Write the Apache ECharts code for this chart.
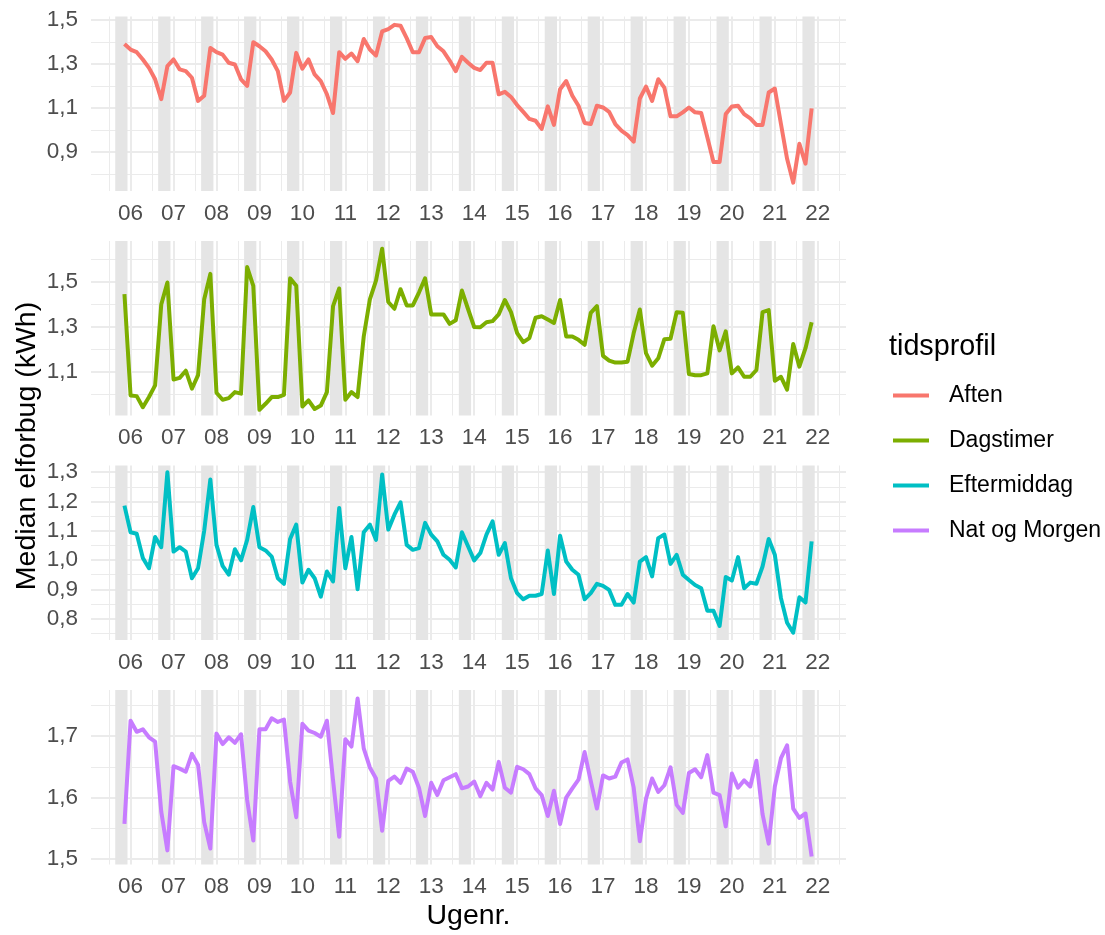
<!DOCTYPE html>
<html>
<head>
<meta charset="utf-8">
<script src="https://cdn.jsdelivr.net/npm/echarts@6/dist/echarts.min.js"></script>
<style>
html,body{margin:0;padding:0;background:#ffffff;}
#chart{width:1105px;height:935px;}
</style>
</head>
<body>
<div id="chart"></div>
<script>
// ---------- DATA ----------
// x = day offset from Monday of week 06; first observation is the Sunday before week 06
const firstDay = -1;
const weekLabels = ['06','07','08','09','10','11','12','13','14','15','16','17','18','19','20','21','22'];
const seriesNames = ['Aften','Dagstimer','Eftermiddag','Nat og Morgen'];

const aften = [1.39,1.365,1.353,1.32,1.282,1.23,1.14,1.29,1.32,1.275,1.267,1.237,1.132,1.155,1.372,1.353,1.342,1.305,1.297,1.23,1.2,1.398,1.38,1.357,1.32,1.267,1.132,1.17,1.35,1.278,1.32,1.252,1.222,1.162,1.077,1.353,1.323,1.347,1.312,1.413,1.365,1.338,1.447,1.458,1.477,1.473,1.417,1.353,1.353,1.417,1.422,1.38,1.357,1.315,1.267,1.332,1.305,1.282,1.272,1.305,1.305,1.162,1.173,1.15,1.113,1.082,1.05,1.042,1.005,1.107,1.023,1.185,1.222,1.155,1.11,1.032,1.027,1.11,1.102,1.082,1.027,0.997,0.977,0.947,1.143,1.197,1.132,1.23,1.192,1.062,1.062,1.08,1.102,1.08,1.077,0.967,0.855,0.855,1.072,1.107,1.11,1.072,1.053,1.023,1.023,1.17,1.188,1.027,0.869,0.761,0.937,0.847,1.098];

const dagstimer = [1.446,0.996,0.993,0.944,0.989,1.041,1.40,1.498,1.067,1.074,1.106,1.026,1.086,1.423,1.536,1.008,0.977,0.984,1.011,1.004,1.566,1.483,0.932,0.959,0.989,0.989,0.999,1.516,1.483,0.947,0.974,0.936,0.951,1.011,1.393,1.471,0.977,1.011,0.989,1.258,1.423,1.506,1.648,1.411,1.381,1.468,1.396,1.396,1.453,1.516,1.356,1.356,1.356,1.314,1.330,1.462,1.38,1.30,1.299,1.321,1.326,1.356,1.42,1.366,1.273,1.233,1.251,1.341,1.348,1.333,1.318,1.42,1.258,1.258,1.243,1.221,1.363,1.393,1.172,1.151,1.142,1.142,1.146,1.273,1.378,1.184,1.128,1.161,1.246,1.248,1.366,1.363,1.091,1.086,1.086,1.094,1.303,1.196,1.281,1.094,1.121,1.079,1.079,1.109,1.366,1.375,1.061,1.079,1.022,1.225,1.124,1.206,1.321];

const eftermiddag = [1.186,1.095,1.09,1.007,0.972,1.079,1.044,1.30,1.029,1.044,1.029,0.938,0.972,1.10,1.275,1.052,0.98,0.95,1.037,0.999,1.069,1.181,1.044,1.033,1.012,0.938,0.919,1.072,1.121,0.923,0.967,0.938,0.875,0.961,0.927,1.178,0.972,1.079,0.90,1.095,1.121,1.069,1.292,1.104,1.155,1.197,1.052,1.035,1.041,1.127,1.087,1.064,1.018,1.001,0.975,1.095,1.047,0.999,1.024,1.087,1.132,1.018,1.058,0.938,0.887,0.866,0.878,0.878,0.884,1.033,0.884,1.083,0.995,0.967,0.95,0.866,0.887,0.919,0.912,0.898,0.847,0.847,0.884,0.855,0.995,1.01,0.944,1.075,1.087,0.987,1.018,0.95,0.932,0.915,0.904,0.827,0.827,0.775,0.942,0.93,1.01,0.904,0.923,0.919,0.978,1.072,1.018,0.87,0.786,0.752,0.873,0.855,1.064];

const natOgMorgen = [1.557,1.725,1.707,1.711,1.698,1.691,1.577,1.514,1.651,1.647,1.642,1.671,1.653,1.56,1.517,1.704,1.687,1.698,1.689,1.703,1.596,1.53,1.711,1.711,1.729,1.723,1.727,1.626,1.568,1.72,1.709,1.705,1.699,1.725,1.628,1.536,1.695,1.683,1.761,1.68,1.649,1.631,1.546,1.627,1.634,1.624,1.647,1.642,1.616,1.57,1.624,1.604,1.628,1.633,1.638,1.615,1.618,1.626,1.602,1.624,1.613,1.658,1.616,1.608,1.65,1.646,1.638,1.615,1.604,1.57,1.611,1.557,1.60,1.615,1.629,1.674,1.627,1.582,1.636,1.631,1.634,1.657,1.662,1.616,1.529,1.598,1.631,1.609,1.62,1.649,1.588,1.575,1.64,1.646,1.633,1.669,1.608,1.604,1.553,1.639,1.616,1.628,1.618,1.66,1.573,1.525,1.618,1.664,1.685,1.582,1.567,1.574,1.504];

// y tick labels per panel
const yTicksAften = [0.9, 1.1, 1.3, 1.5];
const yTicksDagstimer = [1.1, 1.3, 1.5];
const yTicksEftermiddag = [0.8, 0.9, 1.0, 1.1, 1.2, 1.3];
const yTicksNat = [1.5, 1.6, 1.7];

// ---------- LAYOUT / STYLE ----------
const FONT = 'Liberation Sans, Arial, sans-serif';
const colors = ['#F8766D', '#7CAE00', '#00BFC4', '#C77CFF'];
const allValues = [aften, dagstimer, eftermiddag, natOgMorgen];
const allTicks = [yTicksAften, yTicksDagstimer, yTicksEftermiddag, yTicksNat];
const yRanges = [[0.723, 1.515], [0.907, 1.682], [0.727, 1.323], [1.491, 1.775]];
const xRange = [-6.45, 116.6];
const panelTops = [16.5, 241, 465.5, 690];
const panelHeight = 174.5;
const gridLeft = 91, gridWidth = 755;

const tickDays = weekLabels.map((w, i) => i * 7);
const minorDays = [];
for (let d = -3.5; d <= xRange[1]; d += 7) if (d >= xRange[0]) minorDays.push(d);

function minorOf(ticks, range) {
  const step = ticks.length > 1 ? ticks[1] - ticks[0] : 0.2;
  const out = [];
  for (let v = ticks[0] - step / 2; v <= range[1] + 1e-9; v += step) {
    const r = Math.round(v * 1000) / 1000;
    if (r >= range[0]) out.push(r);
  }
  return out;
}

// weekend bands: Saturday-0.5 .. Sunday+0.5
function weekendBands(nPoints) {
  const last = firstDay + nPoints - 1;
  const bands = [];
  for (let d = firstDay - 1; d <= last; d++) {
    if (((d % 7) + 7) % 7 === 5) bands.push([{ xAxis: d - 0.5 }, { xAxis: d + 1.5 }]);
  }
  return bands;
}

const grids = [], xAxes = [], yAxes = [], series = [];
const gridColor = '#EBEBEB';

for (let i = 0; i < 4; i++) {
  grids.push({ left: gridLeft, width: gridWidth, top: panelTops[i], height: panelHeight });
  xAxes.push({
    type: 'value', gridIndex: i, min: xRange[0], max: xRange[1],
    axisLine: { show: false },
    axisTick: { show: false, customValues: tickDays },
    axisLabel: {
      customValues: tickDays,
      formatter: v => weekLabels[Math.round(v / 7)],
      color: '#4D4D4D', fontSize: 22.5, fontFamily: FONT, margin: 11
    },
    splitLine: { show: true, lineStyle: { color: gridColor, width: 2 } }
  });
  xAxes.push({
    type: 'value', gridIndex: i, min: xRange[0], max: xRange[1], position: 'bottom',
    axisLine: { show: false },
    axisTick: { show: false, customValues: minorDays },
    axisLabel: { show: false },
    splitLine: { show: true, lineStyle: { color: gridColor, width: 1 } }
  });
  const ticks = allTicks[i];
  yAxes.push({
    type: 'value', gridIndex: i, min: yRanges[i][0], max: yRanges[i][1],
    axisLine: { show: false },
    axisTick: { show: false, customValues: ticks },
    axisLabel: {
      customValues: ticks,
      formatter: v => v.toFixed(1).replace('.', ','),
      color: '#4D4D4D', fontSize: 22.5, fontFamily: FONT, margin: 13
    },
    splitLine: { show: true, lineStyle: { color: gridColor, width: 2 } }
  });
  yAxes.push({
    type: 'value', gridIndex: i, min: yRanges[i][0], max: yRanges[i][1], position: 'left',
    axisLine: { show: false },
    axisTick: { show: false, customValues: minorOf(ticks, yRanges[i]) },
    axisLabel: { show: false },
    splitLine: { show: true, lineStyle: { color: gridColor, width: 1 } }
  });
  const vals = allValues[i];
  series.push({
    type: 'line', name: seriesNames[i],
    xAxisIndex: 2 * i, yAxisIndex: 2 * i,
    data: vals.map((v, k) => [firstDay + k, v]),
    symbol: 'none', showSymbol: false, smooth: false,
    lineStyle: { color: colors[i], width: 4, join: 'round', cap: 'butt' },
    itemStyle: { color: colors[i] },
    markArea: {
      silent: true,
      itemStyle: { color: '#E5E5E5' },
      data: weekendBands(vals.length)
    }
  });
}

const chart = echarts.init(document.getElementById('chart'), null, { renderer: 'canvas' });
chart.setOption({
  animation: false,
  backgroundColor: '#ffffff',
  grid: grids,
  xAxis: xAxes,
  yAxis: yAxes,
  series: series,
  legend: {
    orient: 'vertical', left: 893, top: 384, padding: 0,
    data: seriesNames,
    icon: 'rect', itemWidth: 36, itemHeight: 4, itemGap: 22,
    selectedMode: false,
    textStyle: { fontSize: 23, color: '#000000', fontFamily: FONT, lineHeight: 23, padding: [0, 0, 0, 15] }
  },
  graphic: [
    { type: 'text', left: 889, top: 333, style: { text: 'tidsprofil', fontSize: 28.75, fontFamily: FONT, fill: '#000000' } },
    { type: 'text', x: 27, y: 446, rotation: Math.PI / 2,
      style: { text: 'Median elforbug (kWh)', fontSize: 28.5, fontFamily: FONT, fill: '#000000', align: 'center', verticalAlign: 'middle' } },
    { type: 'text', x: 468.5, y: 916,
      style: { text: 'Ugenr.', fontSize: 28.5, fontFamily: FONT, fill: '#000000', align: 'center', verticalAlign: 'middle' } }
  ]
});
</script>
</body>
</html>
